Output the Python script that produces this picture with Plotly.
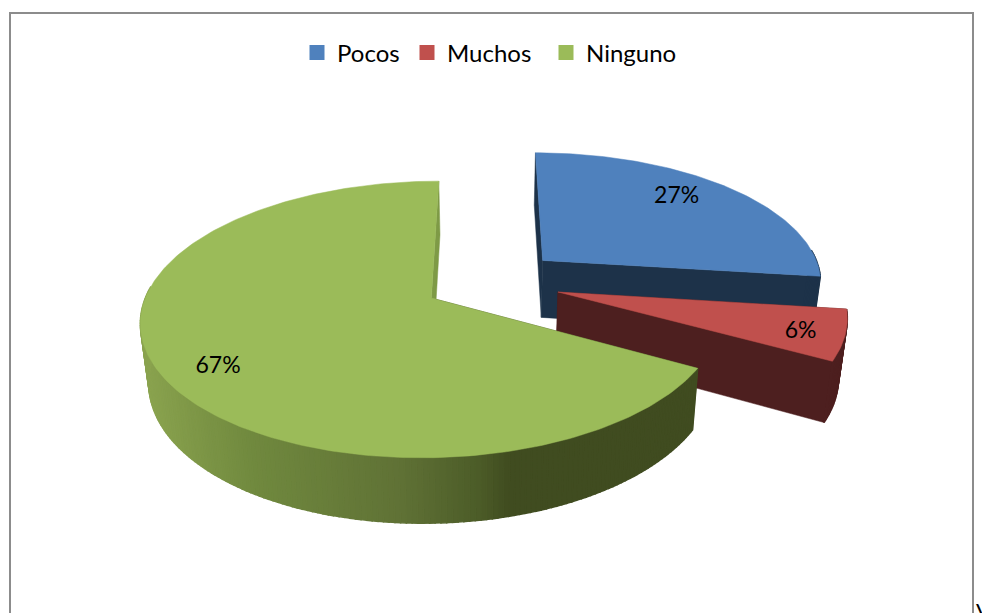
import numpy as np
import plotly.graph_objects as go

categories = ["Pocos", "Muchos", "Ninguno"]
values = [27, 6, 67]
explode = [0.255, 0.25, 0.24]
label_shift = [-3.8, 1.5, -4.4]
label_radius = [0.775, 0.855, 0.826]
legend_left = [297, 407, 546]
top_colors = ["#4F81BD", "#C0504D", "#9BBB59"]
side_colors = ["#1D3249", "#4D1F1F", "#3F4B20"]
green_stops_x = [140, 250, 400, 480, 510, 700]
green_stops_rgb = [(140, 165, 80), (113, 138, 63), (96, 114, 54), (76, 92, 40), (64, 76, 32), (64, 76, 32)]

# 3D pie projection parameters (pixels on the hidden axes)
XV, Y0, F, G, K, H, SF = 487, 298, 286, 135, 0.155, 60, 1.025
CENTRE = (0.012, 0.122)


def project(u, v, bottom=False):
    w = 1 + K * v
    if bottom:
        return XV + F * u / (w * SF), Y0 + (-G * v + H) / (w * SF)
    return XV + F * u / w, Y0 - G * v / w


def poly(fig, xs, ys, color, width=0.5):
    fig.add_trace(go.Scatter(x=list(xs), y=list(ys), mode="lines", fill="toself",
                             fillcolor=color, line=dict(color=color, width=width),
                             hoverinfo="skip", showlegend=False))


def green_wall(x):
    return "rgb(%d,%d,%d)" % tuple(
        np.interp(x, green_stops_x, [c[i] for c in green_stops_rgb]) for i in range(3))


fig = go.Figure()
angles = np.cumsum([0] + values) * 3.6
label_pts = []
for i, cat in enumerate(categories):
    a0, a1 = angles[i], angles[i + 1]
    mid = np.radians((a0 + a1) / 2)
    cu = CENTRE[0] + explode[i] * np.sin(mid)
    cv = CENTRE[1] + explode[i] * np.cos(mid)
    t = np.radians(np.linspace(a0, a1, max(int(a1 - a0) + 1, 4)))
    au, av = cu + np.sin(t), cv + np.cos(t)
    # cut faces
    for edge in (0, -1):
        x1, y1 = project(cu, cv)
        x2, y2 = project(au[edge], av[edge])
        x3, y3 = project(au[edge], av[edge], True)
        x4, y4 = project(cu, cv, True)
        face = "#7E9A46" if (i == 2 and edge == -1) else side_colors[i]
        poly(fig, [x1, x2, x3, x4, x1], [y1, y2, y3, y4, y1], face)
    # outer wall, in overlapping strips, front half only
    for j in range(len(au) - 1):
        if np.cos((t[j] + t[j + 1]) / 2) > 0.08:
            continue
        xa, ya = project(au[j:j + 2], av[j:j + 2])
        xb, yb = project(au[j:j + 2], av[j:j + 2], True)
        col = side_colors[i] if i < 2 else green_wall((xa.mean() + xb.mean()) / 2)
        poly(fig, [xa[0], xa[1], xb[1], xb[0], xa[0]], [ya[0], ya[1], yb[1], yb[0], ya[0]], col, 1.5)
    # top face
    xt, yt = project(np.r_[cu, au, cu], np.r_[cv, av, cv])
    poly(fig, xt, yt, top_colors[i])
    la = mid + np.radians(label_shift[i])
    label_pts.append(project(cu + label_radius[i] * np.sin(la), cv + label_radius[i] * np.cos(la)))

fig.add_trace(go.Scatter(x=[p[0] for p in label_pts], y=[p[1] for p in label_pts],
                         mode="text", text=[f"{v}%" for v in values],
                         textposition="middle center",
                         textfont=dict(family="Lato", size=23, color="#000000"),
                         hoverinfo="skip", showlegend=False))

legends = {}
for i, (cat, col) in enumerate(zip(categories, top_colors)):
    key = "legend" if i == 0 else f"legend{i + 1}"
    fig.add_trace(go.Scatter(x=[None], y=[None], mode="markers", name=cat, legend=key,
                             marker=dict(symbol="square", size=15, color=col)))
    legends[key] = dict(orientation="h", x=legend_left[i] / 982, y=1 - 53 / 613,
                        xanchor="left", yanchor="middle",
                        font=dict(family="Lato", size=24, color="#000000"),
                        bgcolor="rgba(0,0,0,0)")

fig.update_layout(
    width=982, height=613, margin=dict(l=0, r=0, t=0, b=0),
    paper_bgcolor="white", plot_bgcolor="white",
    xaxis=dict(range=[0, 982], visible=False, fixedrange=True),
    yaxis=dict(range=[613, 0], visible=False, fixedrange=True),
    shapes=[dict(type="rect", x0=10, y0=13, x1=973, y1=640, xref="x", yref="y",
                 line=dict(color="#8C8C8C", width=2), layer="below")],
    annotations=[dict(x=974, y=595, xref="x", yref="y", text="V", showarrow=False,
                      xanchor="left", yanchor="top",
                      font=dict(family="Lato", size=22, color="#000000"))],
    **legends,
)
fig.write_html("out.html", config={"displayModeBar": False},
               post_script="document.body.style.margin='0';document.body.style.overflow='hidden';")
